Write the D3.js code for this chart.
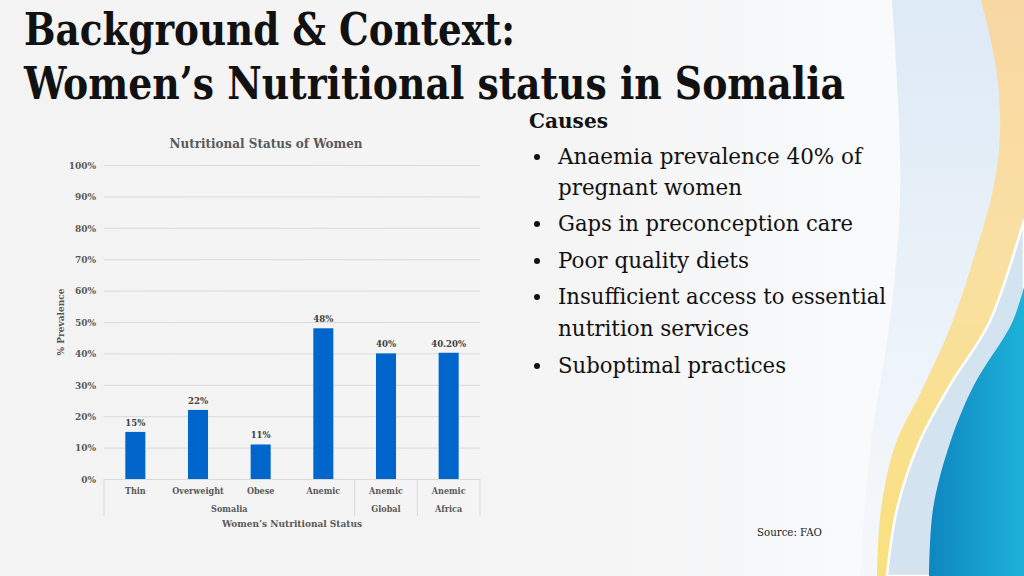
<!DOCTYPE html>
<html>
<head>
<meta charset="utf-8">
<script src="https://cdn.jsdelivr.net/npm/d3@7/dist/d3.min.js"></script>
<style>
html,body{margin:0;padding:0;background:#f4f4f4;}
svg{display:block;}
</style>
</head>
<body>
<svg id="c" width="1024" height="576"></svg>
<script>
// ---- data ----
const categories = ["Thin", "Overweight", "Obese", "Anemic", "Anemic", "Anemic"];
const groups = ["Somalia", "Somalia", "Somalia", "Somalia", "Global", "Africa"];
const values = [15, 22, 11, 48, 40, 40.2];
const valueLabels = ["15%", "22%", "11%", "48%", "40%", "40.20%"];
const yTicks = [0, 10, 20, 30, 40, 50, 60, 70, 80, 90, 100];
const titleLines = ["Background & Context:", "Women\u2019s Nutritional status in Somalia"];
const causesHeading = "Causes";
const causes = [
  ["Anaemia prevalence 40% of", "pregnant women"],
  ["Gaps in preconception care"],
  ["Poor quality diets"],
  ["Insufficient access to essential", "nutrition services"],
  ["Suboptimal practices"]
];
const chartTitle = "Nutritional Status of Women";
const xTitle = "Women\u2019s Nutritional Status";
const yTitle = "% Prevalence";
const sourceText = "Source: FAO";

const svg = d3.select("#c");
const W = 1024, H = 576;
const serif = "'DejaVu Serif', 'Liberation Serif', serif";

// ---- background ----
const defs = svg.append("defs");
const bg = defs.append("linearGradient").attr("id", "bg").attr("x1", 0).attr("x2", 1).attr("y1", 0).attr("y2", 0);
bg.append("stop").attr("offset", "0").attr("stop-color", "#f3f3f3");
bg.append("stop").attr("offset", "0.6").attr("stop-color", "#f5f5f6");
bg.append("stop").attr("offset", "0.85").attr("stop-color", "#f9fafb");
svg.append("rect").attr("width", W).attr("height", H).attr("fill", "url(#bg)");

const lb = defs.append("linearGradient").attr("id", "lb").attr("x1", 0).attr("x2", 0).attr("y1", 0).attr("y2", 1);
lb.append("stop").attr("offset", "0").attr("stop-color", "#dde9f5");
lb.append("stop").attr("offset", "0.5").attr("stop-color", "#eaf2f9");
lb.append("stop").attr("offset", "1").attr("stop-color", "#f5f8fb");
const yg = defs.append("linearGradient").attr("id", "yg").attr("x1", 0).attr("x2", 0).attr("y1", 0).attr("y2", 1);
yg.append("stop").attr("offset", "0").attr("stop-color", "#f8d7a2");
yg.append("stop").attr("offset", "0.45").attr("stop-color", "#f9e0a2");
yg.append("stop").attr("offset", "1").attr("stop-color", "#f9e07e");
const bl = defs.append("linearGradient").attr("id", "bl").attr("x1", 0).attr("x2", 1).attr("y1", 0).attr("y2", 0);
bl.append("stop").attr("offset", "0").attr("stop-color", "#0f86c0");
bl.append("stop").attr("offset", "1").attr("stop-color", "#1cb2d8");

const curve = d3.line().curve(d3.curveCatmullRom.alpha(0.5));
function region(pts, close) {
  return curve(pts) + close.map(p => "L" + p[0] + "," + p[1]).join("") + "Z";
}
// light blue region
svg.append("path").attr("d", region([[892,0],[898,100],[900,200],[890,320],[870,450],[860,576]], [[1024,576],[1024,0]])).attr("fill", "url(#lb)");
// yellow/orange band
svg.append("path").attr("d", region([[981,0],[996,67],[1000,133],[993,190],[974,257],[952,323],[922,390],[896,443],[881,509],[877,576]], [[1024,576],[1024,0]])).attr("fill", "url(#yg)");
// grey-blue band with white edge
svg.append("path").attr("d", region([[1024,220],[989,323],[950,385],[919,443],[897,509],[887,576]], [[1024,576]])).attr("fill", "#d3e3ef").attr("stroke", "#ffffff").attr("stroke-width", 2.5);
// blue wave
svg.append("path").attr("d", region([[1024,287],[1012,323],[974,385],[950,443],[933,509],[929,576]], [[1024,576]])).attr("fill", "url(#bl)");

// ---- title ----
svg.append("text").attr("x", 24).attr("y", 45).attr("font-family", serif).attr("font-weight", "bold")
  .attr("font-stretch", "condensed").attr("font-size", 44).attr("fill", "#111")
  .attr("textLength", 491).attr("lengthAdjust", "spacingAndGlyphs").text(titleLines[0]);
svg.append("text").attr("x", 24).attr("y", 99).attr("font-family", serif).attr("font-weight", "bold")
  .attr("font-stretch", "condensed").attr("font-size", 44).attr("fill", "#111")
  .attr("textLength", 821).attr("lengthAdjust", "spacingAndGlyphs").text(titleLines[1]);

// ---- causes ----
svg.append("text").attr("x", 529).attr("y", 128).attr("font-family", serif).attr("font-weight", "bold")
  .attr("font-stretch", "condensed").attr("font-size", 20).attr("fill", "#111")
  .attr("textLength", 79).attr("lengthAdjust", "spacingAndGlyphs").text(causesHeading);
const lineYs = [[164, 195], [231], [268], [304, 336], [373]];
const lineWs = [[304, 184], [295], [191], [328, 191], [228]];
causes.forEach((lines, i) => {
  svg.append("circle").attr("cx", 537).attr("cy", lineYs[i][0] - 7).attr("r", 3).attr("fill", "#111");
  lines.forEach((t, j) => {
    svg.append("text").attr("x", 558).attr("y", lineYs[i][j]).attr("font-family", serif)
      .attr("font-stretch", "condensed").attr("font-size", 22).attr("fill", "#111")
      .attr("textLength", lineWs[i][j]).attr("lengthAdjust", "spacingAndGlyphs").text(t);
  });
});

// ---- chart ----
const pLeft = 104, pRight = 480, pTop = 165, pBottom = 479;
const x = d3.scaleBand().domain(d3.range(values.length)).range([pLeft, pRight]).paddingInner(0.68).paddingOuter(0.34);
const y = d3.scaleLinear().domain([0, 100]).range([pBottom, pTop]);
const labelColor = "#595959";

svg.append("text").attr("x", (pLeft + pRight) / 2 - 26).attr("y", 148).attr("text-anchor", "middle")
  .attr("font-family", serif).attr("font-weight", "bold").attr("font-stretch", "condensed")
  .attr("font-size", 12).attr("fill", labelColor).attr("textLength", 193).attr("lengthAdjust", "spacingAndGlyphs").text(chartTitle);

const yAxis = svg.append("g").attr("transform", `translate(${pLeft},0)`)
  .call(d3.axisLeft(y).tickValues(yTicks).tickSize(-(pRight - pLeft)).tickPadding(8).tickFormat(d => d + "%"));
yAxis.select(".domain").remove();
yAxis.selectAll(".tick line").attr("stroke", "#d9d9d9").attr("stroke-width", 1);
yAxis.selectAll(".tick text").attr("font-family", serif).attr("font-weight", "bold").attr("font-stretch", "condensed")
  .attr("font-size", 10).attr("fill", labelColor);

svg.append("text").attr("transform", `translate(64,${(pTop + pBottom) / 2}) rotate(-90)`).attr("text-anchor", "middle")
  .attr("font-family", serif).attr("font-weight", "bold").attr("font-stretch", "condensed")
  .attr("font-size", 10).attr("fill", labelColor).text(yTitle);

svg.selectAll("rect.bar").data(values).join("rect").attr("class", "bar")
  .attr("x", (d, i) => x(i)).attr("width", x.bandwidth())
  .attr("y", d => y(d)).attr("height", d => pBottom - y(d)).attr("fill", "#0066cc");

svg.selectAll("text.vl").data(values).join("text").attr("class", "vl")
  .attr("x", (d, i) => x(i) + x.bandwidth() / 2).attr("y", d => y(d) - 6).attr("text-anchor", "middle")
  .attr("font-family", serif).attr("font-weight", "bold").attr("font-stretch", "condensed")
  .attr("font-size", 9.5).attr("fill", "#404040").text((d, i) => valueLabels[i]);

// category labels
const step = x.step();
svg.selectAll("text.cat").data(categories).join("text").attr("class", "cat")
  .attr("x", (d, i) => x(i) + x.bandwidth() / 2).attr("y", 494).attr("text-anchor", "middle")
  .attr("font-family", serif).attr("font-weight", "bold").attr("font-stretch", "condensed")
  .attr("font-size", 9).attr("fill", labelColor).text(d => d);

// group spans
const spans = [];
groups.forEach((g, i) => {
  if (spans.length && spans[spans.length - 1].name === g) spans[spans.length - 1].end = i;
  else spans.push({ name: g, start: i, end: i });
});
const bounds = [pLeft];
spans.forEach(s => bounds.push(x(s.end) + x.bandwidth() / 2 + step / 2));
svg.selectAll("line.sep").data(bounds).join("line").attr("class", "sep")
  .attr("x1", d => d).attr("x2", d => d).attr("y1", pBottom).attr("y2", 516)
  .attr("stroke", "#d9d9d9").attr("stroke-width", 1);
svg.selectAll("text.grp").data(spans).join("text").attr("class", "grp")
  .attr("x", s => (x(s.start) + x(s.end) + x.bandwidth()) / 2).attr("y", 512).attr("text-anchor", "middle")
  .attr("font-family", serif).attr("font-weight", "bold").attr("font-stretch", "condensed")
  .attr("font-size", 9).attr("fill", labelColor).text(s => s.name);

svg.append("text").attr("x", 292).attr("y", 527).attr("text-anchor", "middle")
  .attr("font-family", serif).attr("font-weight", "bold").attr("font-stretch", "condensed")
  .attr("font-size", 10).attr("fill", labelColor).text(xTitle);

svg.append("text").attr("x", 757).attr("y", 536).attr("font-family", serif).attr("font-stretch", "condensed")
  .attr("font-size", 11.5).attr("fill", "#222").attr("textLength", 65).attr("lengthAdjust", "spacingAndGlyphs").text(sourceText);
</script>
</body>
</html>
